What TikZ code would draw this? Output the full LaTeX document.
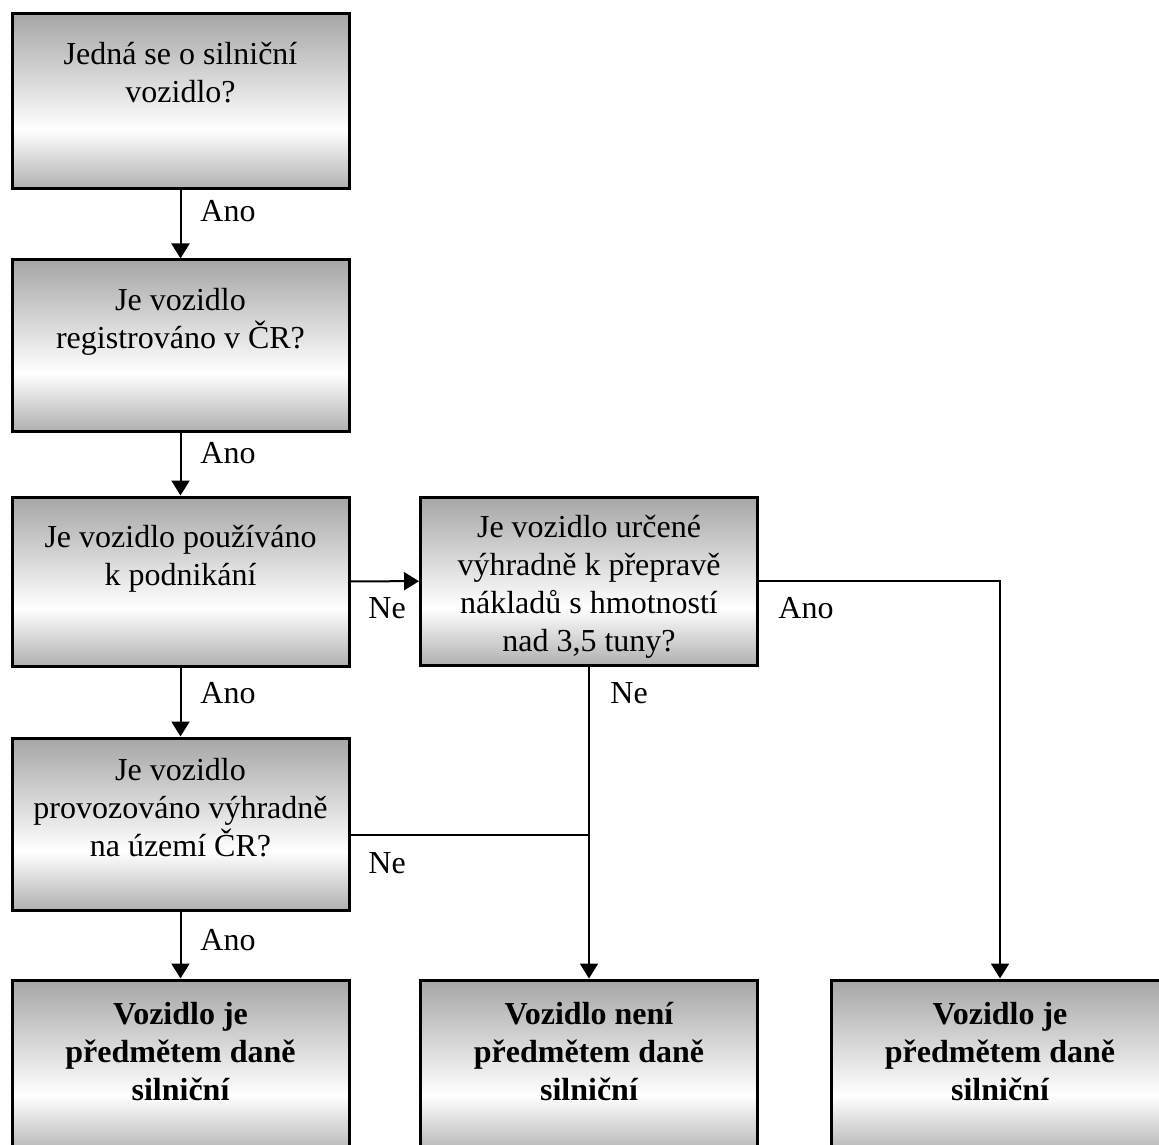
\documentclass[tikz,border=0pt]{standalone}
\usepackage{fontspec}
\setmainfont{Liberation Serif}
\usetikzlibrary{arrows.meta}
\pgfdeclareverticalshading{boxshade}{100bp}{color(0bp)=(gray!62); color(25bp)=(gray!62); color(42bp)=(white); color(75bp)=(gray!70); color(100bp)=(gray!70)}

\begin{document}
\begin{tikzpicture}[x=0.5pt,y=-0.5pt,
  box/.style={draw, line width=1.5pt, shading=boxshade, minimum width=168.5pt, inner sep=0pt},
  boxtext/.style={anchor=north, align=center, inner sep=0pt, font=\fontsize{16}{19}\selectfont},
  endtext/.style={anchor=north, align=center, inner sep=0pt, font=\fontsize{16}{19}\selectfont\bfseries},
  answer/.style={anchor=base west, inner sep=0pt, font=\fontsize{16}{19}\selectfont},
  arr/.style={-{Triangle[length=7.5pt,width=9pt]}, line width=1pt},
  link/.style={line width=1pt}]
\useasboundingbox (0,0) rectangle (1159,1144);
\clip (0,0) rectangle (1159,1144);

% question boxes
\node[box, minimum height=87.5pt] (road) at (180.5,101.5) {};
\node[box, minimum height=85.5pt] (reg) at (180.5,345.5) {};
\node[box, minimum height=84.5pt] (business) at (180.5,581.5) {};
\node[box, minimum height=84pt] (cargo) at (589,581) {};
\node[box, minimum height=86pt] (domestic) at (180.5,824) {};

% result boxes
\node[box, minimum height=87.5pt] (taxL) at (180.5,1067.5) {};
\node[box, minimum height=87.5pt] (free) at (589,1067.5) {};
\node[box, minimum height=87.5pt] (taxR) at (1000,1067.5) {};

\node[boxtext] (road-t) at (180.5,42) {Jedná se o silniční\\vozidlo?};
\node[boxtext] (reg-t) at (180.5,288) {Je vozidlo\\registrováno v ČR?};
\node[boxtext] (business-t) at (180.5,525) {Je vozidlo používáno\\k podnikání};
\node[boxtext] (cargo-t) at (589,515) {Je vozidlo určené\\výhradně k přepravě\\nákladů s hmotností\\nad 3,5 tuny?};
\node[boxtext] (domestic-t) at (180.5,758) {Je vozidlo\\provozováno výhradně\\na území ČR?};
\node[endtext] (taxL-t) at (180.5,1002) {Vozidlo je\\předmětem daně\\silniční};
\node[endtext] (free-t) at (589,1002) {Vozidlo není\\předmětem daně\\silniční};
\node[endtext] (taxR-t) at (1000,1002) {Vozidlo je\\předmětem daně\\silniční};

% connectors
\coordinate (join) at (589,835);
\draw[arr] (road) -- (reg);
\draw[arr] (reg) -- (business);
\draw[arr] (business) -- (domestic);
\draw[arr] (domestic) -- (taxL);
\draw[arr] (business) -- (cargo);
\draw[arr] (cargo.east) -| (taxR.north);
\draw[arr] (cargo) -- (free);
\draw[link] (domestic.east |- join) -- (join);

% answers
\node[answer] (a1) at (200,222) {Ano};
\node[answer] (a2) at (200,463) {Ano};
\node[answer] (a3) at (200,703) {Ano};
\node[answer] (a4) at (200,950) {Ano};
\node[answer] (n1) at (368,618) {Ne};
\node[answer] (a5) at (778,618) {Ano};
\node[answer] (n2) at (610,703) {Ne};
\node[answer] (n3) at (368,873) {Ne};
\end{tikzpicture}
\end{document}
